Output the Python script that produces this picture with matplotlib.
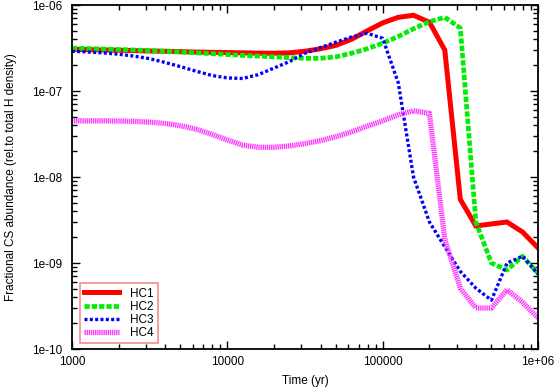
import matplotlib
matplotlib.use('Agg')
import matplotlib.pyplot as plt
from matplotlib.ticker import FixedLocator, FixedFormatter, LogLocator, NullFormatter

plt.rcParams['font.family'] = ['Liberation Sans', 'DejaVu Sans']

# time grid (yr), 0.1 dex steps
time = [1.0e3, 1.26e3, 1.58e3, 2.0e3, 2.51e3, 3.16e3, 3.98e3, 5.01e3, 6.31e3, 7.94e3,
        1.0e4, 1.26e4, 1.58e4, 2.0e4, 2.51e4, 3.16e4, 3.98e4, 5.01e4, 6.31e4, 7.94e4,
        1.0e5, 1.26e5, 1.58e5, 2.0e5, 2.51e5, 3.16e5, 3.98e5, 5.01e5, 6.31e5, 7.94e5,
        1.0e6]

hc1 = [3.05e-7, 3.03e-7, 3.0e-7, 2.98e-7, 2.95e-7, 2.92e-7, 2.9e-7, 2.87e-7, 2.84e-7, 2.82e-7,
       2.8e-7, 2.78e-7, 2.76e-7, 2.75e-7, 2.78e-7, 2.9e-7, 3.1e-7, 3.4e-7, 4.0e-7, 5.0e-7,
       6.2e-7, 7.2e-7, 7.6e-7, 6.3e-7, 3.0e-7, 5.5e-9, 2.7e-9, 2.85e-9, 3.0e-9, 2.3e-9,
       1.5e-9]
hc2 = [3.15e-7, 3.12e-7, 3.08e-7, 3.04e-7, 3.0e-7, 2.95e-7, 2.9e-7, 2.84e-7, 2.78e-7, 2.72e-7,
       2.66e-7, 2.6e-7, 2.55e-7, 2.5e-7, 2.45e-7, 2.4e-7, 2.4e-7, 2.5e-7, 2.75e-7, 3.1e-7,
       3.6e-7, 4.3e-7, 5.3e-7, 6.4e-7, 7.2e-7, 5.4e-7, 3.0e-9, 1.0e-9, 8.3e-10, 1.2e-9,
       7.6e-10]
hc3 = [2.9e-7, 2.85e-7, 2.78e-7, 2.68e-7, 2.55e-7, 2.38e-7, 2.15e-7, 1.92e-7, 1.7e-7, 1.52e-7,
       1.42e-7, 1.4e-7, 1.55e-7, 1.85e-7, 2.2e-7, 2.75e-7, 3.2e-7, 3.7e-7, 4.25e-7, 4.7e-7,
       4.1e-7, 1.25e-7, 1.0e-8, 3.0e-9, 1.55e-9, 8.0e-10, 5.1e-10, 3.7e-10, 1.0e-9, 1.2e-9,
       7.5e-10]
hc4 = [4.5e-8, 4.5e-8, 4.5e-8, 4.48e-8, 4.45e-8, 4.35e-8, 4.2e-8, 3.95e-8, 3.6e-8, 3.15e-8,
       2.7e-8, 2.35e-8, 2.22e-8, 2.22e-8, 2.3e-8, 2.45e-8, 2.65e-8, 2.95e-8, 3.35e-8, 3.9e-8,
       4.5e-8, 5.3e-8, 5.9e-8, 5.5e-8, 1.9e-9, 5.1e-10, 3.0e-10, 3.0e-10, 4.9e-10, 3.5e-10,
       2.3e-10]

labels = ['HC1', 'HC2', 'HC3', 'HC4']
xticks = [1e3, 1e4, 1e5, 1e6]
xticklabels = ['1000', '10000', '100000', '1e+06']
yticks = [1e-10, 1e-9, 1e-8, 1e-7, 1e-6]
yticklabels = ['1e-10', '1e-09', '1e-08', '1e-07', '1e-06']

fig = plt.figure(figsize=(5.57, 3.87), dpi=100)
ax = fig.add_axes([0.129, 0.098, 0.837, 0.889])

ax.plot(time, hc1, color='#ff0000', lw=3.6, solid_joinstyle='miter', label=labels[0])
ax.plot(time, hc2, color='#00ee00', lw=3.4, linestyle=(0, (1.1, 0.45)), label=labels[1])
ax.plot(time, hc3, color='#0000ff', lw=2.4, linestyle=(0, (0.9, 0.7)), label=labels[2])
ax.plot(time, hc4, color='#ff33ff', lw=3.8, linestyle=(0, (0.25, 0.15)), label=labels[3])

ax.set_xscale('log')
ax.set_yscale('log')
ax.set_xlim(1e3, 1e6)
ax.set_ylim(1e-10, 1e-6)

ax.xaxis.set_major_locator(FixedLocator(xticks))
ax.xaxis.set_major_formatter(FixedFormatter(xticklabels))
ax.yaxis.set_major_locator(FixedLocator(yticks))
ax.yaxis.set_major_formatter(FixedFormatter(yticklabels))
ax.xaxis.set_minor_locator(LogLocator(base=10, subs=range(2, 10)))
ax.yaxis.set_minor_locator(LogLocator(base=10, subs=range(2, 10)))
ax.xaxis.set_minor_formatter(NullFormatter())
ax.yaxis.set_minor_formatter(NullFormatter())

ax.tick_params(which='both', direction='in', top=True, right=True, labelsize=8.5, width=1)
ax.tick_params(which='major', length=6, pad=5)
ax.tick_params(axis='y', which='major', pad=7)
ax.tick_params(which='minor', length=3.5)
for s in ax.spines.values():
    s.set_linewidth(1.3)

ax.set_xlabel('Time (yr)', fontsize=8.5, labelpad=5)
ax.set_ylabel('Fractional CS abundance (rel.to total H density)', fontsize=8.5, labelpad=11)

leg = ax.legend(loc='lower left', bbox_to_anchor=(0.012, 0.01), fontsize=8.5, frameon=True,
                fancybox=False, handlelength=3.0, handletextpad=0.9, borderpad=0.35,
                labelspacing=0.1, borderaxespad=0.2)
leg.get_frame().set_edgecolor('#f07070')
leg.get_frame().set_linewidth(1.2)

fig.savefig('out.png', dpi=100)
